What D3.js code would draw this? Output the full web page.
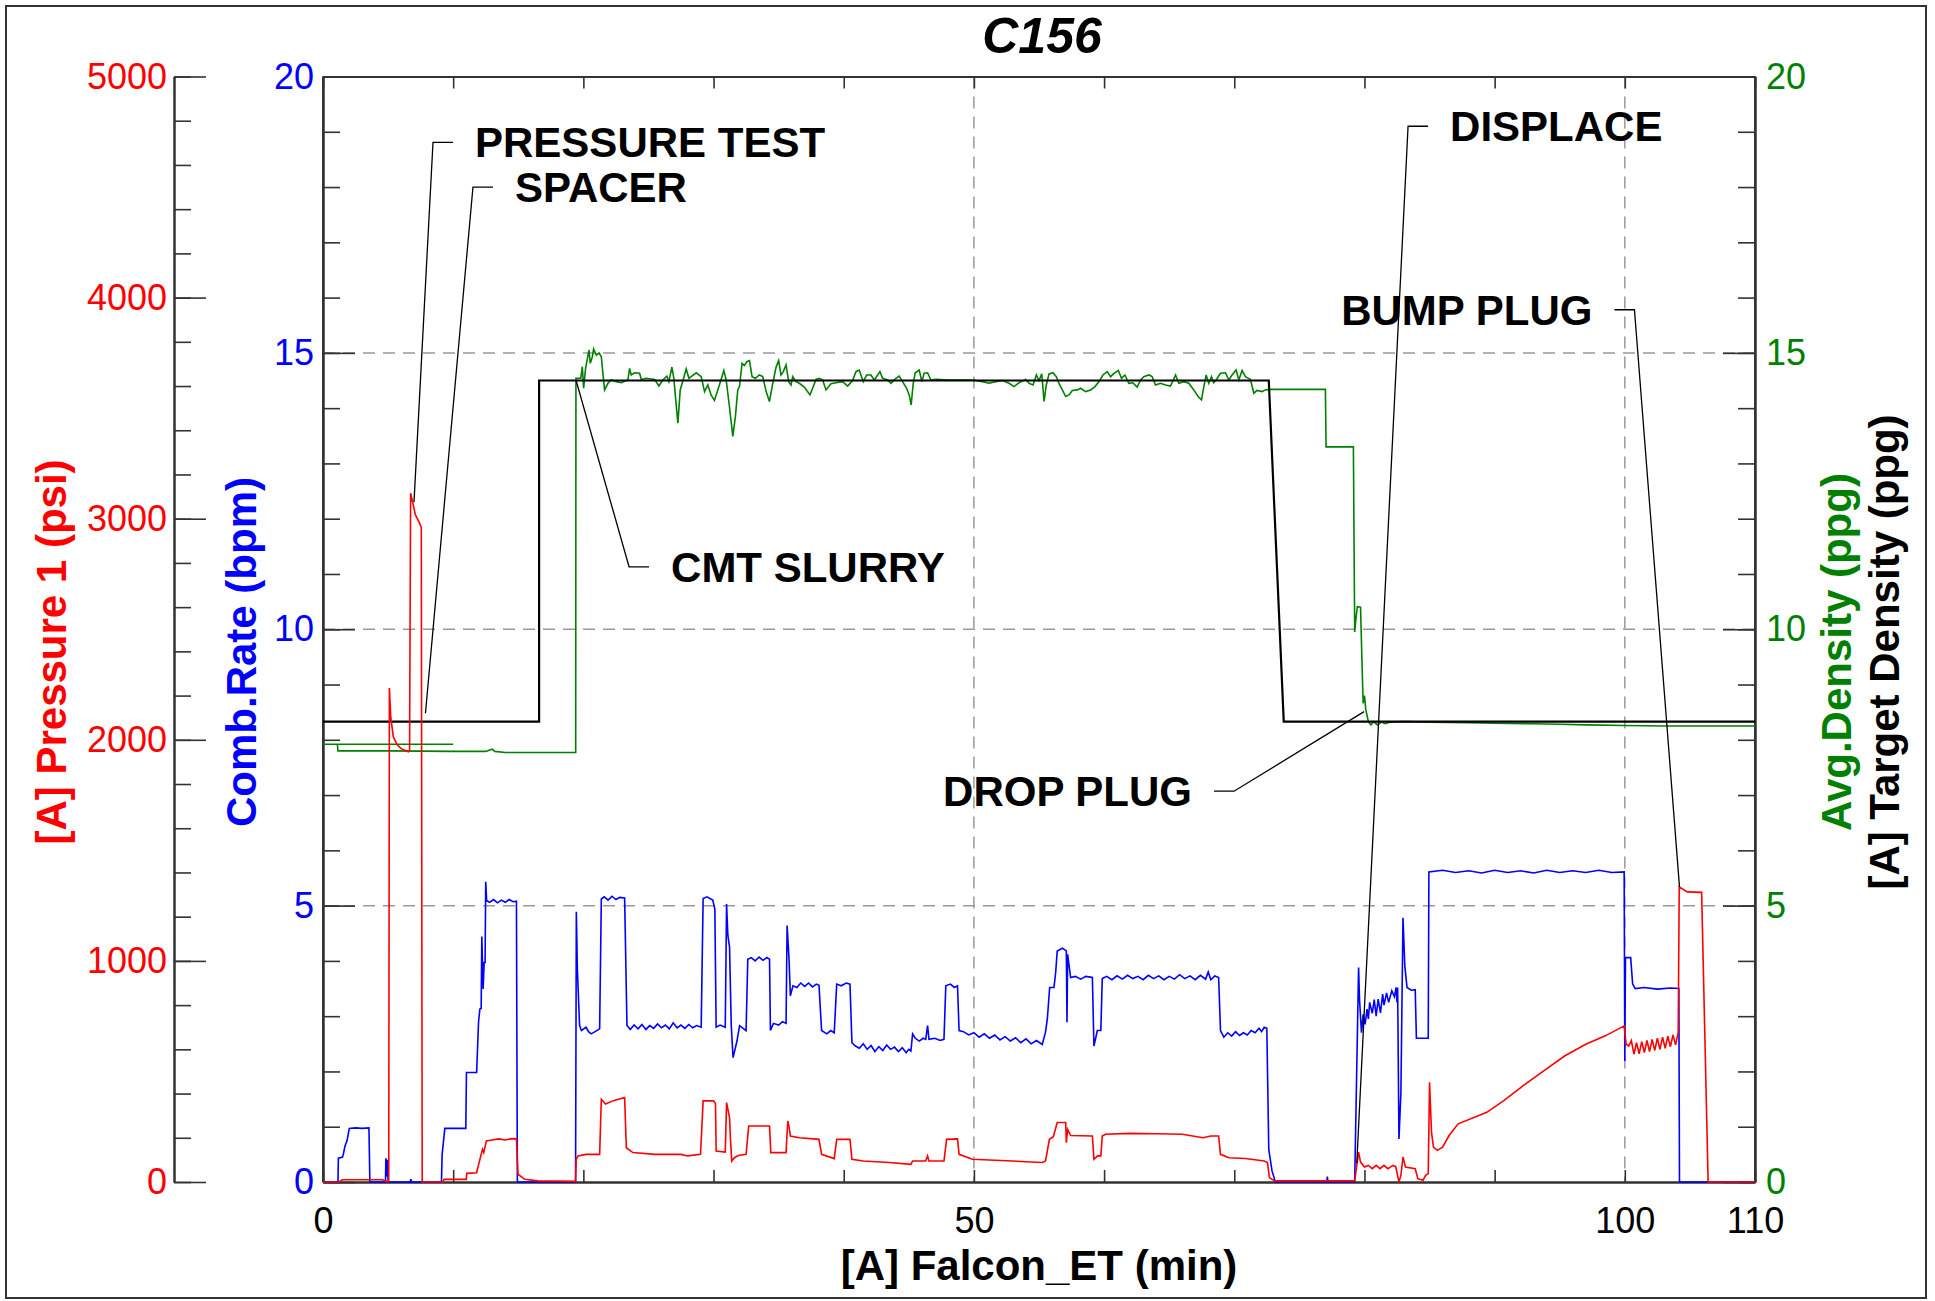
<!DOCTYPE html>
<html>
<head>
<meta charset="utf-8">
<script src="https://cdn.jsdelivr.net/npm/d3@7"></script>
<style>
  body { margin: 0; background: #fff; }
  text { font-family: "Liberation Sans", Arial, sans-serif; }
</style>
</head>
<body>
<svg id="chart" width="1935" height="1301"></svg>
<script>
// ---- data ----
var title = "C156";

// [minutes, bpm]
var rate = [[0,0],[1.15,0],[1.18,0.43],[1.5,0.45],[1.56,0.5],[1.69,0.65],[1.85,0.75],[2.02,0.97],[2.5,0.98],[3.0,0.97],[3.53,0.98],[3.6,0],
  [4.8,0],[4.83,0.43],[4.9,0.1],[4.95,0.4],[5.0,0],[6.7,0],[6.75,0.05],[6.8,0],[9.1,0],[9.15,0.5],[9.36,0.97],[10.97,0.97],
  [11.02,1.98],[11.8,1.98],[11.95,2.9],[12.05,3.13],[12.15,3.14],[12.2,4.44],[12.3,3.49],[12.38,3.97],[12.45,3.97],[12.5,5.43],
  [12.57,5.09],[12.8,5.06],[13.1,5.11],[13.4,5.05],[13.7,5.1],[14.0,5.06],[14.3,5.11],[14.6,5.07],[14.86,5.08],[14.93,0],
  [19.4,0],[19.46,4.89],[19.54,3.85],[19.71,2.83],[19.85,2.74],[20.2,2.8],[20.4,2.72],[20.6,2.68],[20.9,2.72],[21.25,2.77],
  [21.38,5.12],[21.6,5.16],[21.9,5.1],[22.2,5.17],[22.5,5.11],[22.8,5.15],[23.17,5.14],[23.35,2.83],
  [23.6,2.76],[23.9,2.84],[24.2,2.77],[24.5,2.85],[24.8,2.76],[25.1,2.83],[25.4,2.78],[25.7,2.86],[26,2.79],[26.3,2.84],
  [26.6,2.77],[26.9,2.88],[27.2,2.79],[27.5,2.84],[27.8,2.78],[28.1,2.85],[28.4,2.79],[28.7,2.83],[29.05,2.8],
  [29.2,5.13],[29.5,5.16],[29.94,5.1],[30.1,4.94],[30.2,2.8],[30.5,2.84],[30.9,2.8],
  [31.0,5.03],[31.1,4.46],[31.23,4.25],[31.36,2.83],[31.5,2.25],[31.65,2.4],[31.8,2.55],[32.0,2.83],[32.5,2.74],[32.63,4.03],
  [32.9,4.06],[33.2,4.0],[33.5,4.07],[33.8,4.01],[34.1,4.06],[34.3,4.03],[34.37,2.74],[34.6,2.87],[35.0,2.84],[35.3,2.9],[35.57,2.87],
  [35.65,4.64],[35.8,4.03],[35.9,3.37],[36.1,3.55],[36.4,3.52],[36.7,3.6],[37.0,3.54],[37.3,3.6],[37.6,3.53],[37.9,3.58],[38.1,3.56],
  [38.3,2.74],[38.7,2.68],[39.0,2.74],[39.27,2.7],[39.46,3.58],[39.8,3.55],[40.2,3.6],[40.48,3.58],[40.63,2.52],
  [40.9,2.46],[41.2,2.42],[41.5,2.5],[41.8,2.4],[42.1,2.47],[42.4,2.36],[42.7,2.45],[43.0,2.38],[43.3,2.48],[43.6,2.4],
  [43.9,2.44],[44.2,2.36],[44.5,2.43],[44.8,2.34],[45.0,2.4],[45.16,2.37],[45.29,2.68],[45.5,2.6],[45.8,2.55],[46.1,2.6],[46.3,2.58],
  [46.44,2.83],[46.55,2.58],[47.0,2.6],[47.4,2.56],[47.7,2.58],[47.84,3.55],[48.2,3.58],[48.5,3.52],[48.74,3.55],[48.86,2.74],
  [49.2,2.72],[49.6,2.66],[50,2.7],[50.4,2.62],[50.8,2.68],[51.2,2.6],[51.6,2.66],[52,2.57],[52.4,2.63],[52.8,2.55],
  [53.2,2.61],[53.6,2.52],[54,2.59],[54.4,2.5],[54.8,2.56],[55.25,2.49],[55.5,2.71],[55.64,2.95],[55.82,3.52],
  [56.15,3.52],[56.28,3.79],[56.4,4.18],[56.8,4.23],[57.1,4.18],[57.15,2.89],[57.2,4.12],[57.43,3.7],[57.8,3.72],[58.2,3.67],
  [58.6,3.72],[59.1,3.7],[59.22,2.46],[59.48,2.74],[59.75,2.74],[59.86,3.68],
  [60.2,3.72],[60.6,3.66],[61,3.73],[61.4,3.67],[61.8,3.74],[62.2,3.68],[62.6,3.72],[63,3.66],[63.4,3.74],[63.8,3.68],
  [64.2,3.73],[64.6,3.66],[65,3.72],[65.4,3.67],[65.8,3.75],[66.2,3.68],[66.6,3.73],[67,3.66],[67.4,3.74],[67.8,3.67],
  [68.0,3.8],[68.2,3.66],[68.5,3.73],[68.8,3.7],[68.94,2.74],
  [69.2,2.62],[69.5,2.7],[69.8,2.64],[70.1,2.72],[70.4,2.65],[70.7,2.7],[71.0,2.66],[71.3,2.74],[71.6,2.7],[71.9,2.78],
  [72.1,2.72],[72.3,2.8],[72.5,2.78],[72.65,0.59],[72.9,0.2],[73.16,0],[77.1,0],[77.15,0.1],[77.2,0],[79.25,0],[79.55,3.88],
  [79.62,3.31],[79.77,2.7],[79.9,3.03],[80.05,2.85],[80.2,3.13],[80.3,2.95],[80.4,3.25],[80.6,3.05],[80.75,3.3],[80.9,3.0],
  [81.05,3.31],[81.23,3.06],[81.4,3.4],[81.5,3.2],[81.7,3.42],[81.86,3.25],[82.1,3.46],[82.3,3.35],[82.43,3.52],[82.5,3.25],
  [82.55,3.52],[82.65,0.78],[82.8,1.62],[82.96,4.78],[83.1,3.91],[83.27,3.52],[83.6,3.47],[83.9,3.48],[83.99,2.6],[84.9,2.6],
  [84.95,5.61],[86,5.64],[87,5.6],[88,5.63],[89,5.59],[90,5.64],[91,5.6],[92,5.63],[93,5.59],[94,5.64],[95,5.6],[96,5.63],
  [97,5.6],[98,5.64],[99,5.6],[99.95,5.61],[100.0,2.19],[100.05,4.06],[100.45,4.06],[100.6,3.58],[100.8,3.5],[101.5,3.52],
  [102.5,3.49],[103.5,3.51],[104.15,3.5],[104.2,0],[110,0]];

// [minutes, psi]
var pressure = [[0,0],[1.2,0],[1.5,10],[4.6,10],[4.8,3],[5.05,3],[5.1,2234],[5.2,2105],[5.4,2014],[5.7,1977],[6.0,1960],
  [6.56,1946],[6.65,1950],[6.73,3115],[6.9,3071],[7.1,3017],[7.41,2981],[7.55,2960],[7.62,0],[9.2,0],[9.3,12],[11.0,12],
  [11.05,39],[11.8,42],[12.0,90],[12.25,148],[12.35,133],[12.55,186],[13,190],[13.5,195],[14,190],[14.5,196],[14.86,195],
  [14.98,35],[15.5,12],[16.5,5],[19.4,3],[19.45,103],[19.6,118],[20.2,125],[21.25,125],[21.38,374],[21.7,353],[22.3,368],
  [23.17,382],[23.3,155],[23.8,133],[25.5,125],[27.5,125],[28,118],[29.0,125],[29.2,367],[30.0,367],[30.15,355],[30.2,140],
  [30.9,135],[31.0,359],[31.1,330],[31.23,291],[31.3,193],[31.4,95],[31.6,110],[31.9,120],[32.5,125],[32.7,253],[34.3,253],
  [34.4,133],[35.57,133],[35.7,276],[35.8,250],[35.9,208],[36.6,200],[38.1,193],[38.3,125],[39.27,106],[39.46,193],[40.48,193],
  [40.63,103],[41.5,95],[43.5,88],[45.16,80],[45.29,95],[46.3,95],[46.44,118],[46.55,95],[47.7,95],[47.9,193],[48.74,195],
  [48.86,125],[49.89,103],[52.95,95],[55.25,88],[55.5,95],[55.8,193],[56.1,205],[56.4,269],[57.05,269],[57.1,178],[57.2,238],
  [57.43,210],[59.1,208],[59.22,103],[59.5,118],[59.75,118],[59.86,208],[60.1,216],[62,220],[64,218],[66,216],[67.6,200],
  [68.2,208],[68.8,208],[68.94,125],[69.6,110],[70.86,106],[72.3,95],[72.55,88],[72.7,20],[72.9,12],[73.16,5],[79.25,5],
  [79.55,135],[79.7,90],[80.0,68],[80.3,75],[80.6,60],[80.9,75],[81.2,60],[81.5,75],[81.8,60],[82.2,75],[82.4,70],[82.65,0],
  [82.8,30],[82.96,113],[83.15,68],[83.9,60],[84.1,15],[84.5,8],[84.7,30],[84.9,38],[85.0,451],[85.15,225],[85.3,158],
  [85.6,143],[86.0,158],[86.5,210],[87.2,263],[89.4,315],[90.7,368],[92.2,436],[93.8,504],[95.4,571],[97.0,623],[98.5,661],
  [99.95,706],[100.1,623],[100.3,615],[100.5,640],[100.7,578],[100.9,630],[101.1,580],[101.3,635],[101.5,585],[101.7,640],
  [101.9,590],[102.1,645],[102.3,595],[102.5,650],[102.7,600],[102.9,655],[103.1,605],[103.3,660],[103.5,612],[103.7,665],
  [103.9,620],[104.1,676],[104.18,1335],[104.8,1312],[105.9,1310],[106.4,0],[110,0]];

// [minutes, ppg], null = gap in the trace
var density = [[0,7.92],[10,7.92],null,[0,7.92],[1.1,7.92],[1.15,7.8],[5,7.8],[10,7.79],[12.5,7.79],[13.0,7.83],[13.2,7.79],
  [14,7.77],[19.41,7.77],[19.43,14.54],[19.8,14.54],[19.92,14.75],[20.02,14.36],[20.17,14.72],[20.43,15.05],[20.53,14.81],
  [20.69,14.93],[20.79,15.07],[21.0,14.96],[21.2,15.0],[21.38,14.93],[21.5,14.63],[21.63,14.33],[21.89,14.45],[22.14,14.51],
  [22.53,14.48],[22.91,14.46],[23.42,14.51],[23.55,14.72],[23.68,14.6],[23.93,14.64],[24.32,14.63],[24.45,14.52],[24.83,14.54],
  [25.47,14.52],[25.8,14.4],[26.11,14.51],[26.41,14.58],[26.57,14.48],[26.8,14.74],[26.95,14.54],[27.13,14.06],[27.26,13.73],
  [27.44,14.33],[27.7,14.54],[27.9,14.71],[28.11,14.54],[28.28,14.57],[28.67,14.64],[29.05,14.57],[29.31,14.3],[29.56,14.42],
  [29.81,14.24],[30.07,14.14],[30.45,14.42],[30.79,14.68],[30.97,14.51],[31.22,14.03],[31.48,13.49],[31.68,13.85],[31.86,14.33],
  [31.99,14.39],[32.19,14.81],[32.37,14.77],[32.55,14.84],[32.76,14.86],[32.96,14.57],[33.21,14.54],[33.52,14.6],[33.78,14.57],
  [34.04,14.3],[34.29,14.12],[34.55,14.45],[34.8,14.74],[35.0,14.86],[35.18,14.6],[35.36,14.66],[35.57,14.78],[35.77,14.48],
  [35.95,14.42],[36.08,14.57],[36.33,14.48],[36.59,14.45],[36.97,14.38],[37.41,14.24],[37.61,14.36],[37.87,14.52],[38.13,14.54],
  [38.38,14.51],[38.64,14.33],[39.02,14.44],[39.4,14.46],[39.91,14.48],[40.3,14.4],[40.68,14.5],[40.94,14.66],[41.19,14.69],
  [41.5,14.48],[41.76,14.6],[42.09,14.6],[42.35,14.51],[42.78,14.66],[42.99,14.54],[43.37,14.51],[43.63,14.45],[44.01,14.54],
  [44.26,14.58],[44.52,14.48],[44.83,14.36],[45.03,14.24],[45.18,14.06],[45.34,14.45],[45.49,14.64],[45.8,14.69],[46.0,14.48],
  [46.18,14.63],[46.44,14.64],[46.69,14.51],[47.08,14.52],[48.1,14.51],[49.89,14.51],[50.66,14.48],[51.16,14.45],[51.68,14.48],
  [52.19,14.5],[52.7,14.45],[53.08,14.39],[53.47,14.46],[53.98,14.52],[54.24,14.45],[54.54,14.42],[54.8,14.6],[55.0,14.5],
  [55.21,14.62],[55.39,14.12],[55.56,14.42],[55.77,14.62],[56.07,14.64],[56.33,14.57],[56.59,14.42],[56.79,14.33],[57.05,14.21],
  [57.3,14.24],[57.56,14.32],[57.94,14.33],[58.2,14.36],[58.58,14.3],[58.97,14.33],[59.3,14.39],[59.61,14.48],[59.91,14.6],
  [60.24,14.66],[60.5,14.57],[60.76,14.63],[61.09,14.68],[61.34,14.54],[61.6,14.6],[61.9,14.45],[62.21,14.46],[62.54,14.38],
  [62.8,14.51],[63.05,14.57],[63.44,14.6],[63.69,14.57],[63.95,14.42],[64.33,14.45],[64.72,14.42],[65.1,14.4],[65.49,14.6],
  [65.74,14.45],[66.13,14.48],[66.51,14.45],[66.89,14.33],[67.22,14.21],[67.48,14.15],[67.66,14.39],[67.84,14.6],[68.04,14.45],
  [68.25,14.57],[68.42,14.46],[68.61,14.51],[68.94,14.63],[69.32,14.64],[69.58,14.51],[69.83,14.6],[70.14,14.69],[70.35,14.51],
  [70.6,14.68],[70.86,14.57],[71.24,14.52],[71.5,14.27],[71.75,14.32],[72.14,14.3],[72.39,14.33],[72.65,14.34],[77.0,14.34],
  [77.05,13.3],[79.15,13.3],[79.25,9.95],[79.35,10.2],[79.45,10.41],[79.7,10.4],[79.8,9.5],[79.9,8.66],[80.0,8.8],[80.1,8.55],
  [80.3,8.33],[80.5,8.27],[80.7,8.33],[81.0,8.27],[81.3,8.32],[81.6,8.29],[82,8.32],[83,8.33],[85,8.32],[88,8.31],[90,8.3],
  [93,8.29],[95,8.28],[97,8.27],[100,8.26],[103,8.25],[106,8.25],[110,8.25]];

// [minutes, ppg]
var target = [[0,8.33],[16.6,8.33],[16.6,14.5],[72.65,14.5],[73.8,8.33],[110,8.33]];

// label, pointed-at point (t, v on the 0-20 scale), elbow of the leader (t, v)
var notes = [
  {label: "PRESSURE TEST", t: 6.99,  v: 12.30, et: 8.45,   ev: 18.81, side: "right"},
  {label: "SPACER",        t: 7.87,  v: 8.48,  et: 11.52,  ev: 18.00, side: "right"},
  {label: "CMT SLURRY",    t: 19.43, v: 14.51, et: 23.51,  ev: 11.13, side: "right"},
  {label: "DISPLACE",      t: 79.41, v: 0.34,  et: 83.35,  ev: 19.10, side: "right"},
  {label: "BUMP PLUG",     t: 104.2, v: 5.34,  et: 100.74, ev: 15.78, side: "left"},
  {label: "DROP PLUG",     t: 79.97, v: 8.51,  et: 69.98,  ev: 7.07,  side: "left"}
];

var xLabels = [0, 50, 100, 110];
var xMinor = d3.range(0, 111, 10);
var pressTicks = d3.range(0, 5001, 1000);
var pressMinor = d3.range(0, 5001, 200);
var scaleTicks = [0, 5, 10, 15, 20];
var scaleMinor = d3.range(0, 21, 1);
var gridY = [5, 10, 15];
var gridX = [50, 100];

// ---- layout ----
var L = 323, R = 1755, T = 76.5, B = 1182;
var svg = d3.select("#chart");

var x = d3.scaleLinear().domain([0, 110]).range([L, R]);
var yRate = d3.scaleLinear().domain([0, 20]).range([B, T]);
var yPres = d3.scaleLinear().domain([0, 5000]).range([B, T]);
var yDens = d3.scaleLinear().domain([0, 20]).range([B, T]);

svg.append("rect").attr("width", 1935).attr("height", 1301).attr("fill", "#fff");
svg.append("rect").attr("x", 6).attr("y", 6).attr("width", 1920).attr("height", 1292)
  .attr("fill", "none").attr("stroke", "#333").attr("stroke-width", 2);

// grid
var grid = svg.append("g").attr("stroke", "#999").attr("stroke-width", 1.5).attr("stroke-dasharray", "12,8");
grid.selectAll(".gy").data(gridY).enter().append("line")
  .attr("x1", L).attr("x2", R).attr("y1", d => yRate(d)).attr("y2", d => yRate(d));
grid.selectAll(".gx").data(gridX).enter().append("line")
  .attr("y1", T).attr("y2", B).attr("x1", d => x(d)).attr("x2", d => x(d));

function styleAxis(g, color, size) {
  g.selectAll(".domain").attr("stroke", "#333").attr("stroke-width", 2);
  g.selectAll(".tick line").attr("stroke", "#333").attr("stroke-width", 1.6);
  g.selectAll("text").attr("fill", color).attr("font-size", size);
}

var fmt = d3.format("d");

// red pressure axis, far left
var gP = svg.append("g").attr("transform", "translate(174,0)");
gP.call(d3.axisLeft(yPres).tickValues(pressMinor).tickSizeInner(-17).tickSizeOuter(0).tickFormat(""));
gP.append("g").call(d3.axisLeft(yPres).tickValues(pressTicks).tickSizeInner(-32).tickSizeOuter(0).tickPadding(7).tickFormat(fmt));
styleAxis(gP, "#ff0000", 36);

// blue rate axis on plot left
var gR = svg.append("g").attr("transform", "translate(" + L + ",0)");
gR.call(d3.axisLeft(yRate).tickValues(scaleMinor).tickSizeInner(-17).tickSizeOuter(0).tickFormat(""));
gR.append("g").call(d3.axisLeft(yRate).tickValues(scaleTicks).tickSizeInner(-32).tickSizeOuter(0).tickPadding(9).tickFormat(fmt));
styleAxis(gR, "#0000ff", 36);

// green density axis on plot right
var gD = svg.append("g").attr("transform", "translate(" + R + ",0)");
gD.call(d3.axisRight(yDens).tickValues(scaleMinor).tickSizeInner(-17).tickSizeOuter(0).tickFormat(""));
gD.append("g").call(d3.axisRight(yDens).tickValues(scaleTicks).tickSizeInner(-32).tickSizeOuter(0).tickPadding(11).tickFormat(fmt));
styleAxis(gD, "#008000", 36);

// x axes
var gX = svg.append("g").attr("transform", "translate(0," + B + ")");
gX.call(d3.axisBottom(x).tickValues(xMinor).tickSizeInner(-12).tickSizeOuter(0).tickFormat(""));
gX.append("g").call(d3.axisBottom(x).tickValues(xLabels).tickSize(0).tickPadding(25).tickFormat(fmt));
styleAxis(gX, "#000", 36);
var gT = svg.append("g").attr("transform", "translate(0," + T + ")");
gT.call(d3.axisTop(x).tickValues(xMinor).tickSizeInner(-12).tickSizeOuter(0).tickFormat(""));
styleAxis(gT, "#000", 36);

// plot frame sides
svg.append("line").attr("x1", L).attr("x2", L).attr("y1", T).attr("y2", B).attr("stroke", "#333").attr("stroke-width", 2);
svg.append("line").attr("x1", R).attr("x2", R).attr("y1", T).attr("y2", B).attr("stroke", "#333").attr("stroke-width", 2);

// series
function line(ys) {
  return d3.line().defined(d => d !== null).x(d => x(d[0])).y(d => ys(d[1]));
}
svg.append("path").datum(density).attr("d", line(yDens))
  .attr("fill", "none").attr("stroke", "#008000").attr("stroke-width", 1.6);
svg.append("path").datum(target).attr("d", line(yDens))
  .attr("fill", "none").attr("stroke", "#000").attr("stroke-width", 2.2);
svg.append("path").datum(rate).attr("d", line(yRate))
  .attr("fill", "none").attr("stroke", "#0000ff").attr("stroke-width", 1.6);
svg.append("path").datum(pressure).attr("d", line(yPres))
  .attr("fill", "none").attr("stroke", "#ff0000").attr("stroke-width", 1.6);

// annotations
var gN = svg.append("g");
notes.forEach(function(n) {
  var ex = x(n.et), ey = yRate(n.ev);
  var dir = n.side === "right" ? 1 : -1;
  gN.append("polyline")
    .attr("points", [[x(n.t), yRate(n.v)], [ex, ey], [ex + dir * 20, ey]].map(p => p.join(",")).join(" "))
    .attr("fill", "none").attr("stroke", "#000").attr("stroke-width", 1.3);
  gN.append("text").attr("x", ex + dir * 42).attr("y", ey).attr("dy", "0.36em")
    .attr("text-anchor", n.side === "right" ? "start" : "end")
    .attr("font-size", 42).attr("font-weight", "bold").text(n.label);
});

// titles
svg.append("text").attr("x", 1042).attr("y", 53).attr("text-anchor", "middle")
  .attr("font-size", 50).attr("font-weight", "bold").attr("font-style", "italic").text(title);
svg.append("text").attr("x", 1039).attr("y", 1280).attr("text-anchor", "middle")
  .attr("font-size", 42).attr("font-weight", "bold").text("[A] Falcon_ET (min)");

var yTitles = [
  {text: "[A] Pressure 1 (psi)", x: 66, color: "#ff0000"},
  {text: "Comb.Rate (bpm)", x: 256, color: "#0000ff"},
  {text: "Avg.Density (ppg)", x: 1851, color: "#008000"},
  {text: "[A] Target Density (ppg)", x: 1899, color: "#000"}
];
yTitles.forEach(function(d) {
  svg.append("text").attr("transform", "translate(" + d.x + ",652) rotate(-90)")
    .attr("text-anchor", "middle").attr("font-size", 42).attr("font-weight", "bold")
    .attr("fill", d.color).text(d.text);
});
</script>
</body>
</html>
